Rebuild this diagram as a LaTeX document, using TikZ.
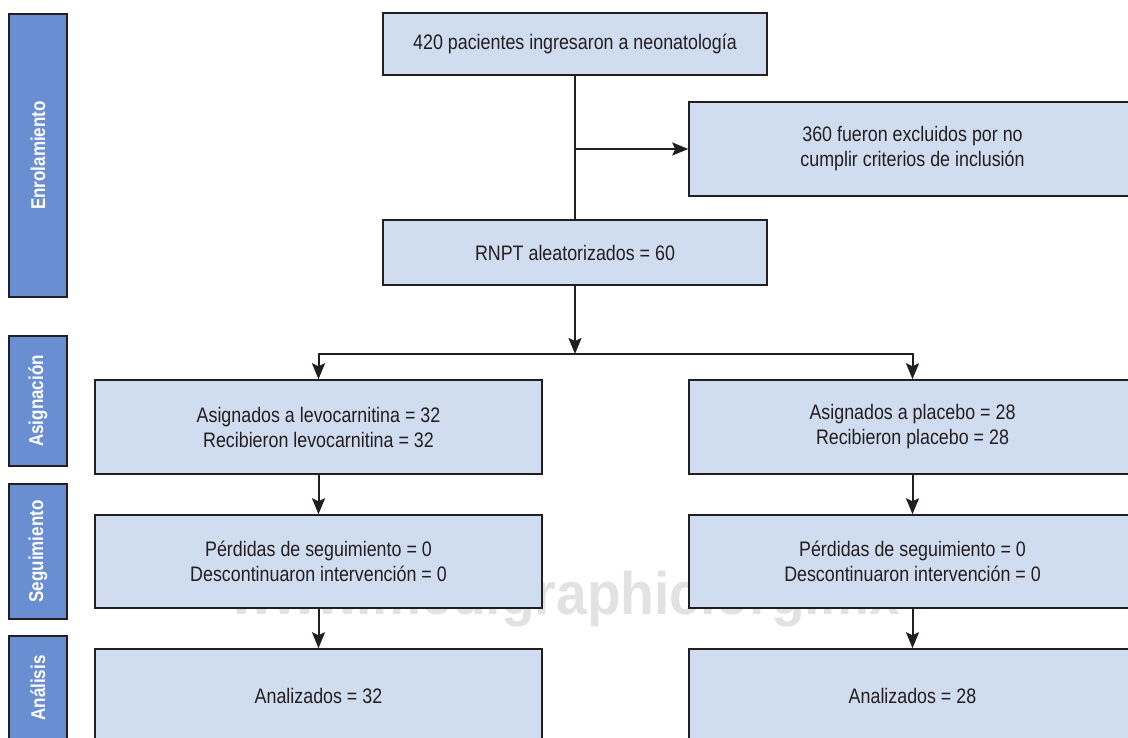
\documentclass[tikz,border=0pt]{standalone}
\usepackage{fontspec}
\setmainfont{Liberation Sans}[FakeStretch=0.85]
\newfontfamily\markfont{Liberation Sans}[FakeStretch=0.92]
\usetikzlibrary{arrows.meta}
\definecolor{boxfill}{HTML}{D0DCEF}
\definecolor{stagefill}{HTML}{6A8ED2}
\definecolor{inkline}{HTML}{231F20}
\definecolor{markgray}{HTML}{E2E2E2}
\tikzset{
  flowbox/.style={draw=inkline, line width=1.5pt, fill=boxfill, text=inkline,
    align=center, inner sep=0pt, font=\fontsize{21}{25}\selectfont},
  stagebox/.style={draw=inkline, line width=1.5pt, fill=stagefill, text=white,
    rotate=90, minimum height=58pt, inner sep=0pt,
    font=\fontsize{20}{24}\selectfont\bfseries},
  flow/.style={draw=inkline, line width=2pt},
  flowarrow/.style={flow, -{Stealth[length=16pt,width=13pt,inset=3pt]}}
}
\begin{document}
\begin{tikzpicture}[x=1pt, y=-1pt]
  \clip (0,0) rectangle (1128,738);
  % Watermark
  \node[text=markgray, font=\markfont\fontsize{60}{60}\selectfont\bfseries, anchor=base]
    (mark) at (565,614) {www.medigraphic.org.mx};
  % Stages
  \node[stagebox, minimum width=283pt] (enrol) at (38,155.5) {Enrolamiento};
  \node[stagebox, minimum width=130pt] (asig) at (38,401) {Asignación};
  \node[stagebox, minimum width=135pt] (segui) at (38,551.5) {Seguimiento};
  \node[stagebox, minimum width=104pt] (anali) at (38,688) {Análisis};
  % Enrolment
  \node[flowbox, minimum width=384pt, minimum height=62pt] (top) at (575,44)
    {420 pacientes ingresaron a neonatología};
  \node[flowbox, minimum width=447pt, minimum height=94pt] (excl) at (912.5,149)
    {360 fueron excluidos por no\\cumplir criterios de inclusión};
  \node[flowbox, minimum width=384pt, minimum height=65pt] (rnpt) at (575,252.5)
    {RNPT aleatorizados = 60};
  % Left arm
  \node[flowbox, minimum width=447pt, minimum height=94pt] (asigL) at (318.5,427)
    {Asignados a levocarnitina = 32\\Recibieron levocarnitina = 32};
  \node[flowbox, minimum width=447pt, minimum height=93pt] (segL) at (318.5,561.5)
    {Pérdidas de seguimiento = 0\\Descontinuaron intervención = 0};
  \node[flowbox, minimum width=447pt, minimum height=94pt] (analL) at (318.5,696)
    {Analizados = 32};
  % Right arm
  \node[flowbox, minimum width=447pt, minimum height=94pt] (asigR) at (912.5,427)
    {Asignados a placebo = 28\\Recibieron placebo = 28};
  \node[flowbox, minimum width=447pt, minimum height=93pt] (segR) at (912.5,561.5)
    {Pérdidas de seguimiento = 0\\Descontinuaron intervención = 0};
  \node[flowbox, minimum width=447pt, minimum height=94pt] (analR) at (912.5,696)
    {Analizados = 28};
  % Connectors
  \coordinate (split) at (575,354);
  \draw[flow] (top) -- (rnpt);
  \draw[flowarrow] (top.south |- excl.west) -- (excl.west);
  \draw[flowarrow] (rnpt) -- (split);
  \draw[flowarrow] (split) -| (asigL);
  \draw[flowarrow] (split) -| (asigR);
  \draw[flowarrow] (asigL) -- (segL);
  \draw[flowarrow] (segL) -- (analL);
  \draw[flowarrow] (asigR) -- (segR);
  \draw[flowarrow] (segR) -- (analR);
\end{tikzpicture}
\end{document}
